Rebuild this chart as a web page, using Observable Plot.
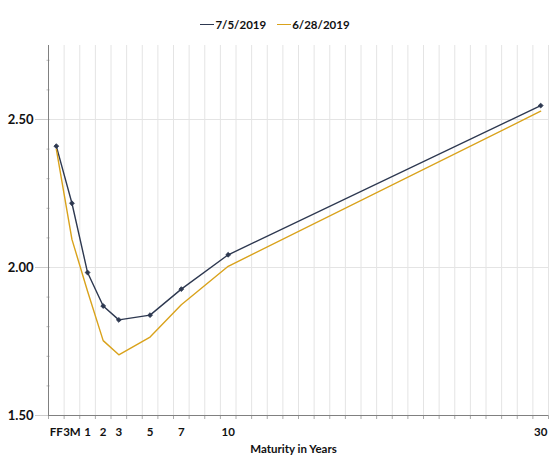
<!DOCTYPE html>
<html>
<head>
<meta charset="utf-8">
<script src="https://cdn.jsdelivr.net/npm/d3@7"></script>
<script src="https://cdn.jsdelivr.net/npm/@observablehq/plot@0.6"></script>
<style>
  html, body { margin: 0; padding: 0; background: #fff; }
  body { width: 550px; height: 459px; overflow: hidden; font-family: Lato, "Open Sans", sans-serif; }
  #legend { height: 40px; display: flex; justify-content: center; align-items: flex-end; gap: 11px; font-weight: 700; font-size: 11.5px; color: #111; box-sizing: border-box; padding-bottom: 9px; }
  #legend span.item { display: flex; align-items: center; }
  #legend span.sw { display: inline-block; width: 14px; height: 1.5px; margin-right: 1px; }
</style>
</head>
<body>
<div id="legend"></div>
<div id="chart"></div>
<script>
// Data
const maturityLabels = ["FF", "3M", "1", "2", "3", "5", "7", "10", "30"];
const maturityYears = [-1, 0, 1, 2, 3, 5, 7, 10, 30];
const yields_2019_07_05 = [2.41, 2.217, 1.983, 1.870, 1.823, 1.839, 1.927, 2.043, 2.547];
const yields_2019_06_28 = [2.40, 2.095, 1.92, 1.753, 1.705, 1.765, 1.874, 2.004, 2.528];
const seriesNames = ["7/5/2019", "6/28/2019"];
const seriesColors = ["#2d3850", "#d9a21b"];
const yMajorTicks = [1.5, 2.0, 2.5];

const rows = [];
maturityYears.forEach((m, i) => {
  rows.push({series: seriesNames[0], x: m, y: yields_2019_07_05[i]});
  rows.push({series: seriesNames[1], x: m, y: yields_2019_06_28[i]});
});

const bounds = d3.range(-1.5, 31, 1);
const yMinor = d3.range(16, 28).map(d => d / 10);
const labelOf = new Map(maturityYears.map((m, i) => [m, maturityLabels[i]]));

// Legend
const legend = document.getElementById("legend");
seriesNames.forEach((name, i) => {
  const item = document.createElement("span");
  item.className = "item";
  const sw = document.createElement("span");
  sw.className = "sw";
  sw.style.background = seriesColors[i];
  item.appendChild(sw);
  item.appendChild(document.createTextNode(name));
  legend.appendChild(item);
});

const chart = Plot.plot({
  width: 550,
  height: 419,
  marginTop: 5,
  marginLeft: 48,
  marginRight: 2,
  marginBottom: 44,
  style: {fontFamily: "Lato, 'Open Sans', sans-serif", color: "#111", background: "#fff"},
  x: {type: "linear", domain: [-1.5, 30.5], label: null},
  y: {domain: [1.5, 2.75], label: null},
  marks: [
    Plot.gridX(bounds, {stroke: "#e4e4e4", strokeOpacity: 1}),
    Plot.gridY([2.0, 2.5], {stroke: "#e4e4e4", strokeOpacity: 1}),
    Plot.axisX(bounds, {tickSize: 4, tickFormat: () => "", stroke: "#aaa", label: null}),
    Plot.axisX(maturityYears, {tickSize: 0, tickPadding: 12, tickFormat: d => labelOf.get(d), fontWeight: 700, fontSize: 11.5, label: null}),
    Plot.axisY(yMinor, {tickSize: 3, tickFormat: () => "", stroke: "#bbb", dx: 1.5, label: null}),
    Plot.axisY(yMajorTicks, {tickSize: 13, tickPadding: 2, tickFormat: d3.format(".2f"), fontWeight: 700, fontSize: 13, stroke: "#ccc", label: null}),
    Plot.ruleX([-1.5], {stroke: "#808080", strokeWidth: 1}),
    Plot.ruleY([1.5], {stroke: "#808080", strokeWidth: 1}),
    Plot.line(rows, {x: "x", y: "y", z: "series", stroke: "series", strokeWidth: 1.4, curve: "linear"}),
    Plot.dot(rows.filter(d => d.series === seriesNames[0]), {x: "x", y: "y", symbol: "diamond2", r: 2.2, fill: seriesColors[0], stroke: seriesColors[0], strokeWidth: 0.8}),
    Plot.text(["Maturity in Years"], {frameAnchor: "bottom", dy: 37, dx: -5, fontWeight: 700, fontSize: 11.5, fill: "#111"})
  ],
  color: {domain: seriesNames, range: seriesColors}
});
document.getElementById("chart").appendChild(chart);
</script>
</body>
</html>
